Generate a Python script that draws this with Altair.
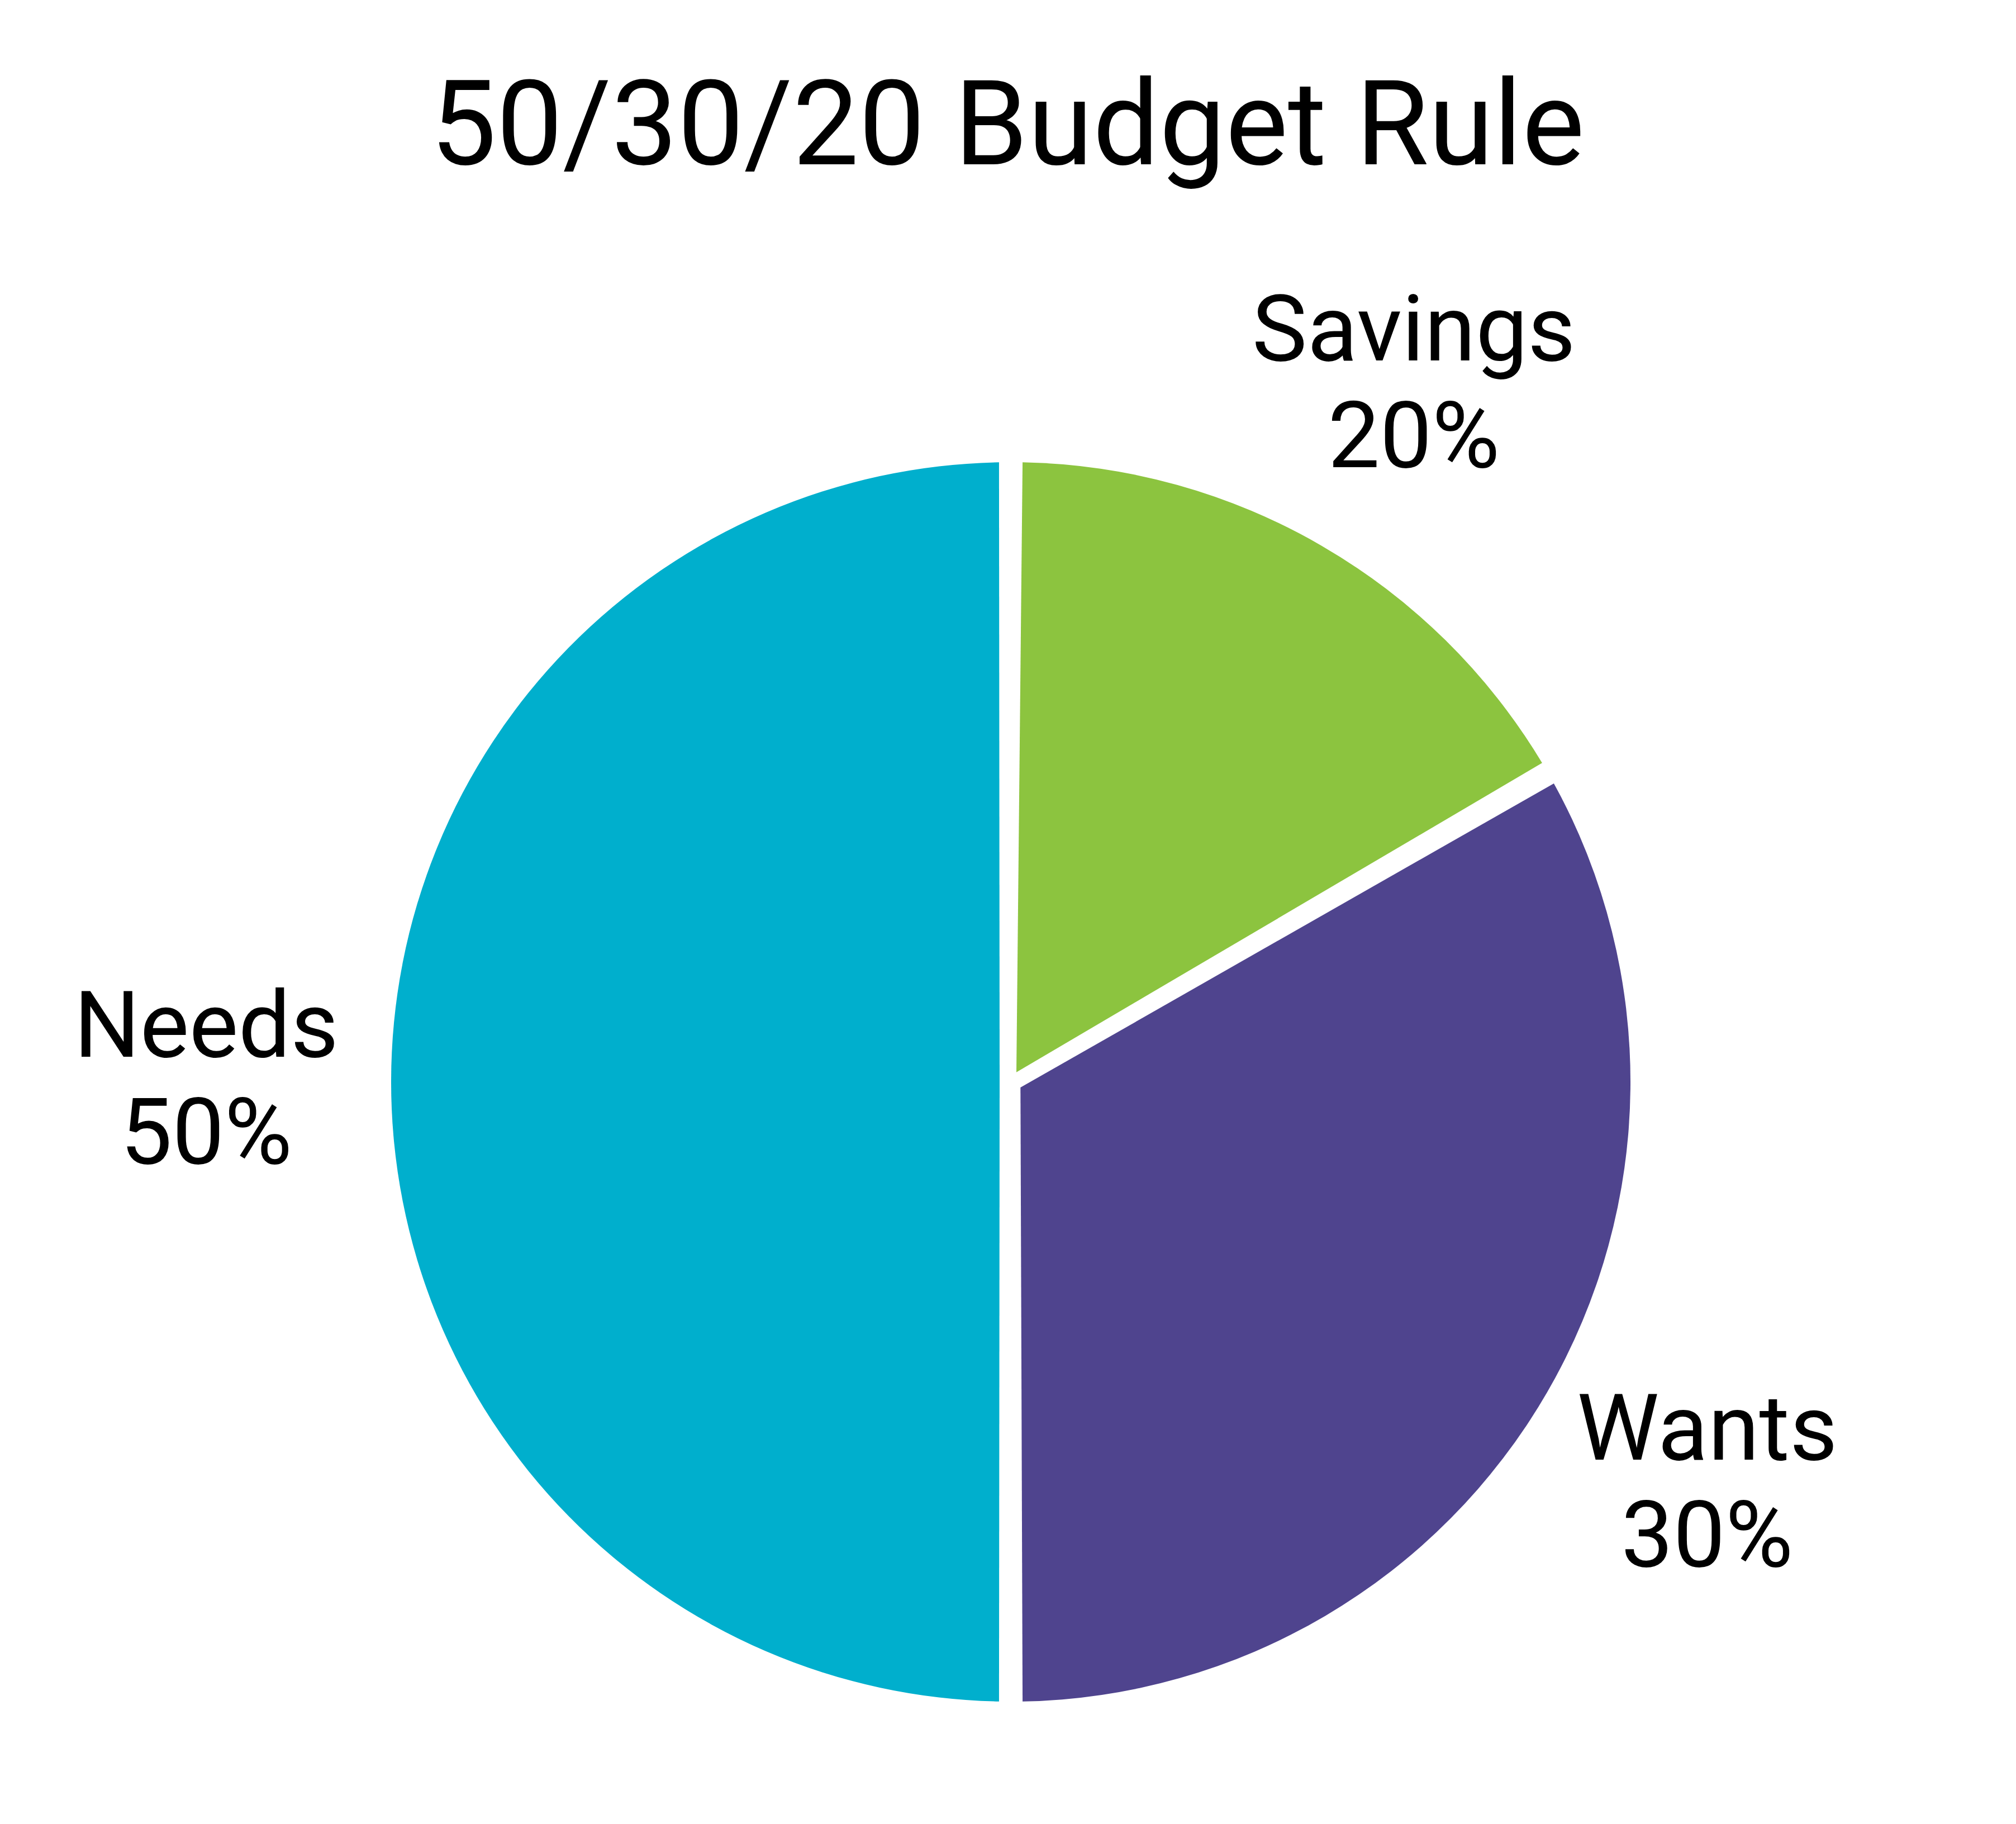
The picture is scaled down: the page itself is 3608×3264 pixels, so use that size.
import altair as alt
import pandas as pd

# --- data ---
categories = ["Savings", "Wants", "Needs"]
label_pct = [20, 30, 50]            # percentages printed next to the slices
drawn_share = [16.7, 33.3, 50.0]    # share of the circle each slice actually covers in the picture
colors = ["#8CC43F", "#4F448E", "#00AFCD"]
title_text = "50/30/20 Budget Rule"

df = pd.DataFrame({
    "category": categories,
    "share": drawn_share,
    "pct": label_pct,
    "order": list(range(len(categories))),
})
df["label"] = [f"{c}\n{p}%" for c, p in zip(categories, label_pct)]

base = alt.Chart(df).encode(
    theta=alt.Theta("share:Q", stack=True),
    order=alt.Order("order:Q"),
    detail=alt.Detail("category:N"),
)

arcs = base.mark_arc(outerRadius=1109, innerRadius=20, padAngle=0.038).encode(
    color=alt.Color(
        "category:N",
        scale=alt.Scale(domain=categories, range=colors),
        legend=None,
    )
)

labels = base.mark_text(
    radius=1440,
    dy=-95,
    font="Roboto",
    fontSize=166,
    lineHeight=191,
    lineBreak="\n",
    align="center",
    baseline="middle",
    color="black",
).encode(text="label:N")

chart = alt.layer(arcs, labels).properties(
    width=3582,
    height=2576,
    padding={"left": 10, "top": 640, "right": 0, "bottom": 0},
    autosize=alt.AutoSizeParams(type="none"),
    title=alt.TitleParams(
        title_text,
        font="Roboto",
        fontSize=211,
        fontWeight="normal",
        color="black",
        anchor="middle",
        offset=174,
        dx=-6,
    ),
).configure_view(stroke=None)

chart.save("out.html", embed_options={"renderer": "svg", "actions": False})
